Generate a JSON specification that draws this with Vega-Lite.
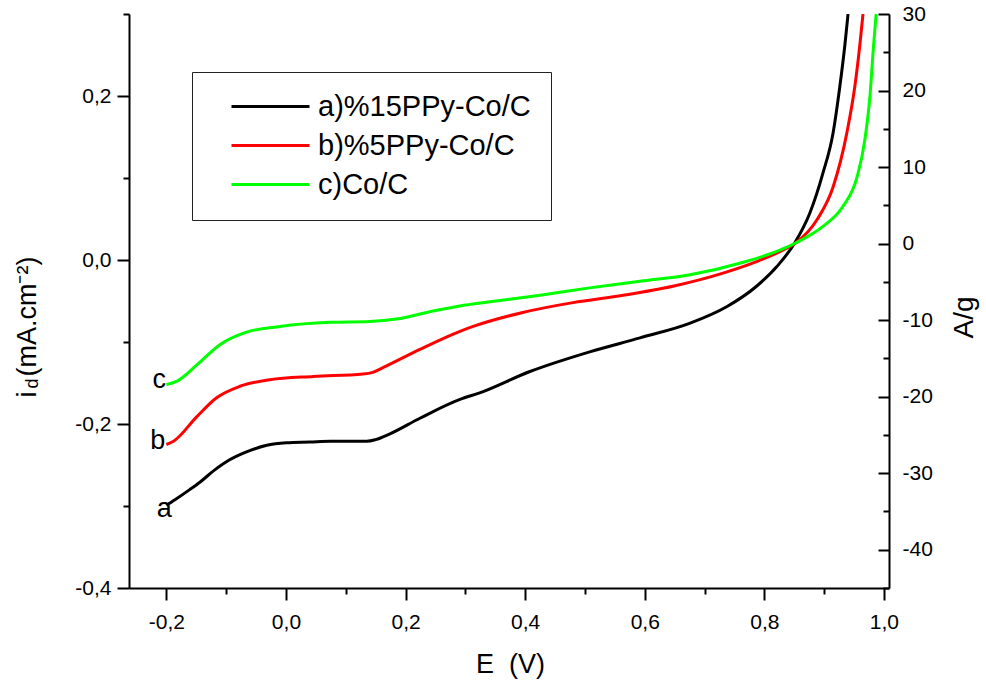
{
  "$schema": "https://vega.github.io/schema/vega-lite/v6.json",
  "width": 760,
  "height": 574,
  "autosize": {"type": "none"},
  "padding": {"left": 129, "top": 14, "right": 97, "bottom": 98},
  "background": "white",
  "config": {
    "view": {"stroke": null},
    "axis": {
      "grid": false,
      "domainColor": "black",
      "domainWidth": 2,
      "tickColor": "black",
      "tickWidth": 2,
      "labelFont": "Liberation Sans",
      "labelFontSize": 21,
      "labelColor": "black",
      "titleFont": "Liberation Sans",
      "titleFontWeight": "normal",
      "titleColor": "black",
      "labelFlush": false,
      "labelOverlap": false
    },
    "legend": {"labelFont": "Liberation Sans"}
  },
  "datasets": {
    "curves": [
      {"series": "a)%15PPy-Co/C", "E": -0.200, "i": -0.299},
      {"series": "a)%15PPy-Co/C", "E": -0.185, "i": -0.292},
      {"series": "a)%15PPy-Co/C", "E": -0.161, "i": -0.280},
      {"series": "a)%15PPy-Co/C", "E": -0.144, "i": -0.271},
      {"series": "a)%15PPy-Co/C", "E": -0.119, "i": -0.256},
      {"series": "a)%15PPy-Co/C", "E": -0.095, "i": -0.244},
      {"series": "a)%15PPy-Co/C", "E": -0.066, "i": -0.234},
      {"series": "a)%15PPy-Co/C", "E": -0.032, "i": -0.226},
      {"series": "a)%15PPy-Co/C", "E": 0.001, "i": -0.223},
      {"series": "a)%15PPy-Co/C", "E": 0.040, "i": -0.222},
      {"series": "a)%15PPy-Co/C", "E": 0.074, "i": -0.221},
      {"series": "a)%15PPy-Co/C", "E": 0.135, "i": -0.221},
      {"series": "a)%15PPy-Co/C", "E": 0.150, "i": -0.219},
      {"series": "a)%15PPy-Co/C", "E": 0.174, "i": -0.212},
      {"series": "a)%15PPy-Co/C", "E": 0.224, "i": -0.193},
      {"series": "a)%15PPy-Co/C", "E": 0.291, "i": -0.170},
      {"series": "a)%15PPy-Co/C", "E": 0.324, "i": -0.162},
      {"series": "a)%15PPy-Co/C", "E": 0.408, "i": -0.136},
      {"series": "a)%15PPy-Co/C", "E": 0.508, "i": -0.112},
      {"series": "a)%15PPy-Co/C", "E": 0.592, "i": -0.095},
      {"series": "a)%15PPy-Co/C", "E": 0.676, "i": -0.077},
      {"series": "a)%15PPy-Co/C", "E": 0.737, "i": -0.057},
      {"series": "a)%15PPy-Co/C", "E": 0.787, "i": -0.032},
      {"series": "a)%15PPy-Co/C", "E": 0.821, "i": -0.008},
      {"series": "a)%15PPy-Co/C", "E": 0.851, "i": 0.021},
      {"series": "a)%15PPy-Co/C", "E": 0.876, "i": 0.057},
      {"series": "a)%15PPy-Co/C", "E": 0.898, "i": 0.106},
      {"series": "a)%15PPy-Co/C", "E": 0.915, "i": 0.155},
      {"series": "a)%15PPy-Co/C", "E": 0.926, "i": 0.210},
      {"series": "a)%15PPy-Co/C", "E": 0.935, "i": 0.264},
      {"series": "a)%15PPy-Co/C", "E": 0.940, "i": 0.300},
      {"series": "b)%5PPy-Co/C", "E": -0.200, "i": -0.225},
      {"series": "b)%5PPy-Co/C", "E": -0.188, "i": -0.221},
      {"series": "b)%5PPy-Co/C", "E": -0.149, "i": -0.191},
      {"series": "b)%5PPy-Co/C", "E": -0.116, "i": -0.168},
      {"series": "b)%5PPy-Co/C", "E": -0.077, "i": -0.154},
      {"series": "b)%5PPy-Co/C", "E": -0.027, "i": -0.146},
      {"series": "b)%5PPy-Co/C", "E": 0.046, "i": -0.142},
      {"series": "b)%5PPy-Co/C", "E": 0.129, "i": -0.139},
      {"series": "b)%5PPy-Co/C", "E": 0.145, "i": -0.137},
      {"series": "b)%5PPy-Co/C", "E": 0.163, "i": -0.131},
      {"series": "b)%5PPy-Co/C", "E": 0.224, "i": -0.109},
      {"series": "b)%5PPy-Co/C", "E": 0.291, "i": -0.087},
      {"series": "b)%5PPy-Co/C", "E": 0.313, "i": -0.081},
      {"series": "b)%5PPy-Co/C", "E": 0.396, "i": -0.064},
      {"series": "b)%5PPy-Co/C", "E": 0.480, "i": -0.052},
      {"series": "b)%5PPy-Co/C", "E": 0.564, "i": -0.043},
      {"series": "b)%5PPy-Co/C", "E": 0.647, "i": -0.032},
      {"series": "b)%5PPy-Co/C", "E": 0.731, "i": -0.016},
      {"series": "b)%5PPy-Co/C", "E": 0.787, "i": -0.002},
      {"series": "b)%5PPy-Co/C", "E": 0.831, "i": 0.012},
      {"series": "b)%5PPy-Co/C", "E": 0.853, "i": 0.021},
      {"series": "b)%5PPy-Co/C", "E": 0.888, "i": 0.049},
      {"series": "b)%5PPy-Co/C", "E": 0.915, "i": 0.089},
      {"series": "b)%5PPy-Co/C", "E": 0.938, "i": 0.155},
      {"series": "b)%5PPy-Co/C", "E": 0.952, "i": 0.215},
      {"series": "b)%5PPy-Co/C", "E": 0.960, "i": 0.264},
      {"series": "b)%5PPy-Co/C", "E": 0.965, "i": 0.300},
      {"series": "c)Co/C", "E": -0.200, "i": -0.152},
      {"series": "c)Co/C", "E": -0.183, "i": -0.148},
      {"series": "c)Co/C", "E": -0.149, "i": -0.128},
      {"series": "c)Co/C", "E": -0.110, "i": -0.103},
      {"series": "c)Co/C", "E": -0.066, "i": -0.088},
      {"series": "c)Co/C", "E": -0.010, "i": -0.081},
      {"series": "c)Co/C", "E": 0.074, "i": -0.076},
      {"series": "c)Co/C", "E": 0.140, "i": -0.075},
      {"series": "c)Co/C", "E": 0.185, "i": -0.072},
      {"series": "c)Co/C", "E": 0.241, "i": -0.063},
      {"series": "c)Co/C", "E": 0.291, "i": -0.056},
      {"series": "c)Co/C", "E": 0.341, "i": -0.051},
      {"series": "c)Co/C", "E": 0.425, "i": -0.043},
      {"series": "c)Co/C", "E": 0.508, "i": -0.034},
      {"series": "c)Co/C", "E": 0.592, "i": -0.026},
      {"series": "c)Co/C", "E": 0.676, "i": -0.018},
      {"series": "c)Co/C", "E": 0.759, "i": -0.004},
      {"series": "c)Co/C", "E": 0.826, "i": 0.012},
      {"series": "c)Co/C", "E": 0.853, "i": 0.021},
      {"series": "c)Co/C", "E": 0.898, "i": 0.041},
      {"series": "c)Co/C", "E": 0.931, "i": 0.065},
      {"series": "c)Co/C", "E": 0.955, "i": 0.101},
      {"series": "c)Co/C", "E": 0.968, "i": 0.146},
      {"series": "c)Co/C", "E": 0.977, "i": 0.203},
      {"series": "c)Co/C", "E": 0.982, "i": 0.255},
      {"series": "c)Co/C", "E": 0.987, "i": 0.300}
    ],
    "letters": [
      {"text": "a", "E": -0.2035, "i": -0.304},
      {"text": "b", "E": -0.2145, "i": -0.221},
      {"text": "c", "E": -0.2118, "i": -0.146}
    ],
    "rightAxis": [
      {"Ag": -45},
      {"Ag": 30}
    ]
  },
  "layer": [
    {
      "data": {"name": "curves"},
      "mark": {"type": "line", "strokeWidth": 3, "interpolate": "monotone", "clip": true},
      "encoding": {
        "x": {
          "field": "E",
          "type": "quantitative",
          "scale": {"domain": [-0.2625, 1.0085], "nice": false, "zero": false},
          "axis": {
            "orient": "bottom",
            "values": [-0.2, -0.1, 0, 0.1, 0.2, 0.3, 0.4, 0.5, 0.6, 0.7, 0.8, 0.9, 1.0],
            "tickSize": {"condition": {"test": "round(datum.value*10) % 2 == 0", "value": 12}, "value": 6},
            "labelPadding": 11,
            "labelExpr": "round(datum.value*10) % 2 == 0 ? replace(replace(format(datum.value, '.1f'), '.', ','), '\u2212', '-') : ''",
            "title": "E\u00a0\u00a0(V)",
            "titleFontSize": 27,
            "titleX": 381,
            "titleY": 84,
            "titleAlign": "center",
            "titleBaseline": "alphabetic",
            "titleAngle": 0
          }
        },
        "y": {
          "field": "i",
          "type": "quantitative",
          "scale": {"domain": [-0.4, 0.3], "nice": false, "zero": false},
          "axis": {
            "orient": "left",
            "values": [-0.4, -0.3, -0.2, -0.1, 0, 0.1, 0.2, 0.3],
            "tickSize": {"condition": {"test": "round(datum.value*10) % 2 == 0", "value": 12}, "value": 6},
            "labelPadding": 6,
            "labelExpr": "round(datum.value*10) % 2 == 0 ? replace(replace(format(datum.value, '.1f'), '.', ','), '\u2212', '-') : ''",
            "title": "i\u00a0\u00a0(mA.cm\u207b\u00b2)",
            "titleFontSize": 27,
            "titleX": -94,
            "titleY": 383,
            "titleAngle": 270,
            "titleAlign": "left",
            "titleBaseline": "alphabetic"
          }
        },
        "color": {
          "field": "series",
          "type": "nominal",
          "scale": {
            "domain": ["a)%15PPy-Co/C", "b)%5PPy-Co/C", "c)Co/C"],
            "range": ["#000000", "#ff0000", "#00ff00"]
          },
          "legend": {
            "orient": "none",
            "legendX": 63,
            "legendY": 58,
            "title": null,
            "direction": "vertical",
            "padding": 20,
            "fillColor": "white",
            "strokeColor": "#222222",
            "symbolType": "M-3,0H3",
            "symbolSize": 676,
            "symbolStrokeWidth": 3,
            "symbolOffset": 44,
            "labelOffset": 33,
            "labelFontSize": 29,
            "labelColor": "black",
            "labelLimit": 600,
            "rowPadding": 9
          }
        }
      }
    },
    {
      "data": {"name": "letters"},
      "mark": {"type": "text", "font": "Liberation Sans", "fontSize": 27, "color": "black", "align": "center", "baseline": "middle"},
      "encoding": {
        "x": {
          "field": "E",
          "type": "quantitative",
          "scale": {"domain": [-0.2625, 1.0085], "nice": false, "zero": false},
          "axis": {
            "orient": "top",
            "domain": false,
            "ticks": false,
            "labels": false,
            "title": "d",
            "titleFontSize": 18,
            "titleX": -92,
            "titleY": 374,
            "titleAngle": 270,
            "titleAlign": "left",
            "titleBaseline": "alphabetic"
          }
        },
        "y": {
          "field": "i",
          "type": "quantitative",
          "scale": {"domain": [-0.4, 0.3], "nice": false, "zero": false},
          "axis": null
        },
        "text": {"field": "text"}
      }
    },
    {
      "data": {"name": "rightAxis"},
      "mark": {"type": "rule", "opacity": 0},
      "encoding": {
        "y": {
          "field": "Ag",
          "type": "quantitative",
          "scale": {"domain": [-45, 30], "nice": false, "zero": false},
          "axis": {
            "orient": "right",
            "values": [-45, -40, -35, -30, -25, -20, -15, -10, -5, 0, 5, 10, 15, 20, 25, 30],
            "tickSize": {"condition": {"test": "round(datum.value) % 10 == 0", "value": -11}, "value": -6},
            "labelPadding": 24,
            "labelExpr": "round(datum.value) % 10 == 0 ? replace(format(datum.value, 'd'), '\u2212', '-') : ''",
            "title": "A/g",
            "titleFontSize": 28,
            "titleX": 83,
            "titleY": 303,
            "titleAngle": 270,
            "titleAlign": "center",
            "titleBaseline": "alphabetic"
          }
        }
      }
    }
  ],
  "resolve": {
    "scale": {"y": "independent"},
    "axis": {"x": "independent", "y": "independent"}
  }
}
